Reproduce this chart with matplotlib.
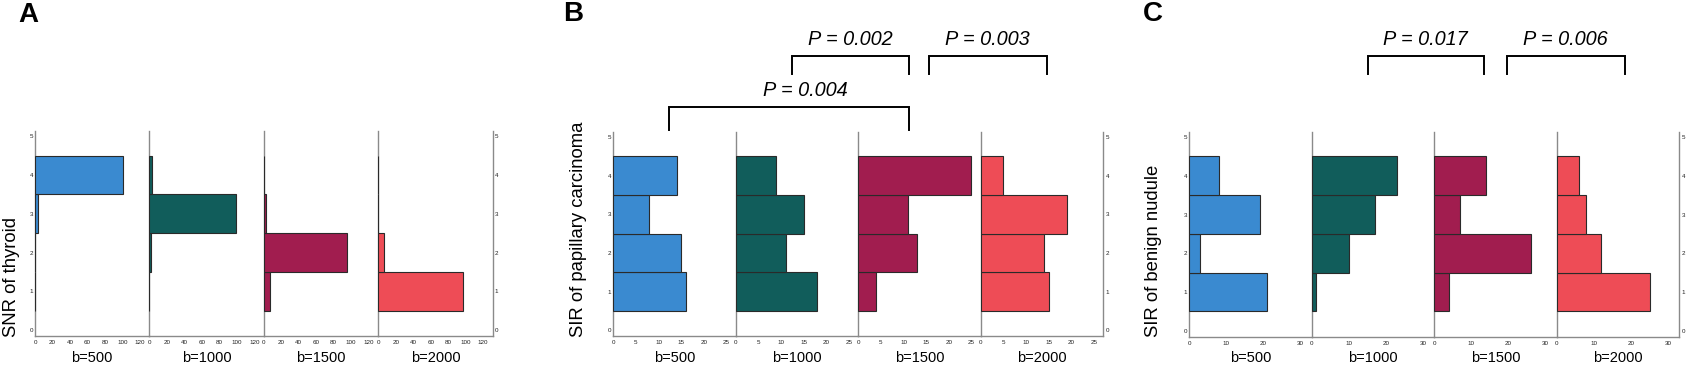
import matplotlib
matplotlib.use('Agg')
import matplotlib.pyplot as plt
from matplotlib.lines import Line2D

plt.rcParams['font.family'] = ['Liberation Sans', 'DejaVu Sans']

# ---------------- data ----------------
b_labels = ['b=500', 'b=1000', 'b=1500', 'b=2000']
scores = [1, 2, 3, 4]
colors = ['#3A8AD0', '#115D5B', '#A11D4F', '#EE4C56']

# Panel A: SNR of thyroid (counts per score 1..4)
snr_b500 = [0, 0, 3, 101]
snr_b1000 = [0, 2, 99, 3]
snr_b1500 = [7, 95, 2, 0]
snr_b2000 = [97, 7, 0, 0]

# Panel B: SIR of papillary carcinoma
pap_b500 = [16, 15, 8, 14]
pap_b1000 = [18, 11, 15, 9]
pap_b1500 = [4, 13, 11, 25]
pap_b2000 = [15, 14, 19, 5]

# Panel C: SIR of benign nudule
ben_b500 = [21, 3, 19, 8]
ben_b1000 = [1, 10, 17, 23]
ben_b1500 = [4, 26, 7, 14]
ben_b2000 = [25, 12, 8, 6]

y_ticks = [0, 1, 2, 3, 4, 5]
a_xticks = [0, 20, 40, 60, 80, 100, 120]
b_xticks = [0, 5, 10, 15, 20, 25]
c_xticks = [0, 10, 20, 30]

p_labels_B = ['P = 0.002', 'P = 0.003', 'P = 0.004']
p_labels_C = ['P = 0.017', 'P = 0.006']

# ---------------- figure ----------------
W, H = 1701, 381
fig = plt.figure(figsize=(W / 100, H / 100), dpi=100)


def fx(px):
    return px / W


def fy(py):
    return 1 - py / H


spine_col = '#8a8a8a'


def panel(left, right, top, bottom, series, xmax, xticks, ylabel, ylab_x):
    n = len(series)
    w = (right - left) / n
    axes = []
    for i, vals in enumerate(series):
        ax = fig.add_axes([fx(left + i * w), fy(bottom), fx(w), (bottom - top) / H])
        ax.barh(scores, vals, height=1.0, color=colors[i], edgecolor='#2a2a2a',
                linewidth=0.8, zorder=3)
        ax.set_xlim(0, xmax)
        ax.set_ylim(-0.15, 5.14)
        ax.set_xticks(xticks)
        ax.set_yticks(y_ticks)
        for s in ['top', 'right']:
            ax.spines[s].set_visible(False)
        ax.spines['left'].set_color(spine_col)
        ax.spines['bottom'].set_color(spine_col)
        ax.spines['left'].set_linewidth(1.0)
        ax.spines['bottom'].set_linewidth(1.0)
        ax.tick_params(axis='x', length=0, pad=3, labelsize=4.5, labelcolor='#222222')
        ax.tick_params(axis='y', length=0, pad=1.5, labelsize=4.5, labelcolor='#222222')
        if i != 0:
            ax.tick_params(axis='y', labelleft=False)
        if i == n - 1:
            ax.spines['right'].set_visible(True)
            ax.spines['right'].set_color(spine_col)
            ax.spines['right'].set_linewidth(1.0)
            ax.tick_params(axis='y', labelright=True, right=True)
        ax.set_xlabel(b_labels[i], fontsize=10.5, labelpad=4)
        ax.patch.set_alpha(0)
        axes.append(ax)
    fig.text(fx(ylab_x), fy(337), ylabel, rotation=90, ha='center', va='bottom',
             fontsize=13.3)
    return axes


panel(35, 492.7, 130.7, 336, [snr_b500, snr_b1000, snr_b1500, snr_b2000],
      131, a_xticks, 'SNR of thyroid', 12)
panel(613.3, 1103.3, 131.5, 336.2, [pap_b500, pap_b1000, pap_b1500, pap_b2000],
      27.1, b_xticks, 'SIR of papillary carcinoma', 578)
panel(1189.3, 1679.3, 131.5, 336.7, [ben_b500, ben_b1000, ben_b1500, ben_b2000],
      33.0, c_xticks, 'SIR of benign nudule', 1153)

# panel letters
for letter, (x, y) in zip(['A', 'B', 'C'], [(28, 15), (573, 14), (1153, 14)]):
    fig.text(fx(x), fy(y), letter, fontsize=20, fontweight='bold', ha='center', va='center')


def bracket(x1, x2, ytop, ybot, label, tx, ty):
    xs = [fx(x1), fx(x1), fx(x2), fx(x2)]
    ys = [fy(ybot), fy(ytop), fy(ytop), fy(ybot)]
    fig.add_artist(Line2D(xs, ys, color='black', linewidth=1.4,
                          solid_joinstyle='miter', transform=fig.transFigure))
    fig.text(fx(tx), fy(ty), label, fontsize=14.3, style='italic', ha='center', va='center')


bracket(792, 909.3, 56, 73.5, p_labels_B[0], 850.3, 39.3)
bracket(929.3, 1046.8, 56, 73.5, p_labels_B[1], 987.7, 39.3)
bracket(669.3, 909.3, 107.3, 130, p_labels_B[2], 805, 90)
bracket(1367.7, 1484.3, 56, 73.5, p_labels_C[0], 1425.3, 39.3)
bracket(1507.3, 1624.5, 56, 73.5, p_labels_C[1], 1565.3, 39.3)

fig.savefig('out.png', dpi=100)
